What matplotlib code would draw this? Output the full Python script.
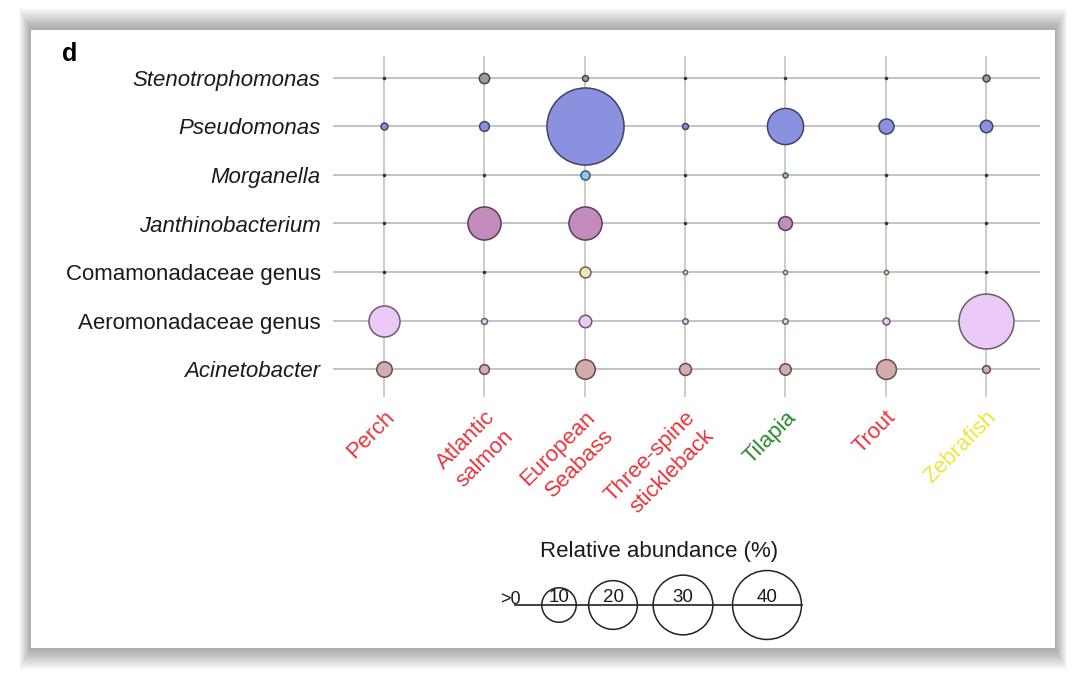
import matplotlib
matplotlib.use("Agg")
import matplotlib.pyplot as plt
import numpy as np
from matplotlib.patches import Rectangle

plt.rcParams['font.family'] = ['Liberation Sans', 'DejaVu Sans']

# ---------------- data ----------------
fish = ["Perch", "Atlantic\nsalmon", "European\nSeabass", "Three-spine\nstickleback",
        "Tilapia", "Trout", "Zebrafish"]
fish_colors = ["#e8353c", "#e8353c", "#e8353c", "#e8353c", "#2b8a2b", "#e8353c", "#ece63e"]

bacteria = ["Stenotrophomonas", "Pseudomonas", "Morganella", "Janthinobacterium",
            "Comamonadaceae genus", "Aeromonadaceae genus", "Acinetobacter"]
bacteria_italic = [True, True, True, True, False, False, True]
bacteria_colors = ["#9c9c9c", "#8a92e0", "#90c4f0", "#c48bbd", "#f7e0b8", "#eccaf7", "#d6abac"]

stenotrophomonas = [0, 0.9, 0.3, 0, 0, 0, 0.4]
pseudomonas = [0.4, 0.8, 50, 0.3, 11, 1.9, 1.3]
morganella = [0, 0, 0.7, 0, 0.2, 0, 0]
janthinobacterium = [0, 9.2, 9.2, 0, 1.6, 0, 0]
comamonadaceae = [0, 0, 1.0, 0.15, 0.15, 0.15, 0]
aeromonadaceae = [8.1, 0.3, 1.3, 0.25, 0.25, 0.4, 25.4]
acinetobacter = [2.0, 0.8, 3.2, 1.2, 1.1, 3.3, 0.5]
abundance = [stenotrophomonas, pseudomonas, morganella, janthinobacterium,
             comamonadaceae, aeromonadaceae, acinetobacter]

legend_values = [10, 20, 30, 40]

# ---------------- layout ----------------
W, H = 1080, 678
DPI = 100
fig = plt.figure(figsize=(W / DPI, H / DPI), dpi=DPI)
fig.patch.set_facecolor("white")

def fx(px):
    return px / W

def fy(py):
    return 1 - py / H

# card shadow + card
cl, ct, cr, cb = 31, 30, 1055, 648
for k in range(22, 0, -1):
    kh = 0.55 * k
    fig.patches.append(Rectangle((fx(cl - kh), fy(cb + k)), fx(cr - cl + 2 * kh), (cb - ct + 2 * k) / H,
                                 transform=fig.transFigure, facecolor="black", alpha=0.016,
                                 edgecolor="none", zorder=-10))
fig.patches.append(Rectangle((fx(cl), fy(cb)), fx(cr - cl), (cb - ct) / H,
                             transform=fig.transFigure, facecolor="white", edgecolor="none", zorder=-9))

px_per_unit = 10.9  # bubble diameter in px per sqrt(%)

def size_pts2(v):
    d_px = px_per_unit * np.sqrt(v)
    return (d_px * 72 / DPI) ** 2

# main axes
ax_l, ax_r, ax_t, ax_b = 333, 1040, 56, 397
ax = fig.add_axes([fx(ax_l), fy(ax_b), fx(ax_r - ax_l), (ax_b - ax_t) / H])
ax.set_zorder(2)
ax.set_facecolor("none")
nx, ny = len(fish), len(bacteria)
sx = (986 - 384) / (nx - 1)
sy = (369 - 78) / (ny - 1)
ax.set_xlim(-(384 - ax_l) / sx, (nx - 1) + (ax_r - 986) / sx)
ax.set_ylim(-(ax_b - 369) / sy, (ny - 1) + (78 - ax_t) / sy)
for s in ax.spines.values():
    s.set_visible(False)

xs = np.arange(nx)
ys = np.arange(ny)[::-1]  # first bacterium on top
for x in xs:
    ax.axvline(x, color="#c3c3c3", lw=1.2, zorder=1)
for y in ys:
    ax.axhline(y, color="#c3c3c3", lw=1.4, zorder=1)

def darker(c, f=0.45):
    rgb = np.array(matplotlib.colors.to_rgb(c))
    return tuple(rgb * f)

for i, row in enumerate(abundance):
    y = ys[i]
    for j, v in enumerate(row):
        if v <= 0:
            ax.scatter([xs[j]], [y], s=(3.5 * 72 / DPI) ** 2, color="#333333", zorder=3, linewidths=0)
        else:
            ax.scatter([xs[j]], [y], s=size_pts2(v), facecolor=bacteria_colors[i],
                       edgecolor=darker(bacteria_colors[i]), linewidths=1.1, zorder=4 if v < 20 else 3)

ax.set_xticks(xs)
ax.set_xticklabels(fish, rotation=45, ha="right", va="top", rotation_mode="anchor",
                   fontsize=16, linespacing=1.35)
for lab, c in zip(ax.get_xticklabels(), fish_colors):
    lab.set_color(c)
    lab.set_multialignment("right")
ax.set_yticks(ys)
ax.set_yticklabels(bacteria, fontsize=16, color="#1a1a1a")
for lab, it in zip(ax.get_yticklabels(), bacteria_italic):
    if it:
        lab.set_style("italic")
ax.tick_params(axis="both", length=0)
ax.tick_params(axis="y", pad=9)
ax.tick_params(axis="x", pad=7)

# panel label
fig.text(fx(62), fy(54), "d", fontsize=18, fontweight="bold", ha="left", va="center")

# size legend (pixel-coordinate overlay)
lax = fig.add_axes([0, 0, 1, 1])
lax.set_zorder(3)
lax.set_xlim(0, W)
lax.set_ylim(H, 0)
lax.axis("off")
lax.patch.set_visible(False)
lax.text(659, 551, "Relative abundance (%)", fontsize=16, ha="center", va="center", color="#1a1a1a")
line_y = 605
lax.plot([515, 802], [line_y, line_y], color="#222222", lw=1.2)
lax.text(510, 599, ">0", fontsize=13, ha="center", va="center", color="#1a1a1a")
legend_x_px = [559, 613, 683, 767]
for lx, v in zip(legend_x_px, legend_values):
    lax.scatter([lx], [line_y], s=size_pts2(v), facecolor="none", edgecolor="#222222", linewidths=1.1)
    lax.text(lx, 598, str(v), fontsize=13.5, ha="center", va="center", color="#1a1a1a")

fig.savefig("out.png", dpi=DPI, facecolor="white")
